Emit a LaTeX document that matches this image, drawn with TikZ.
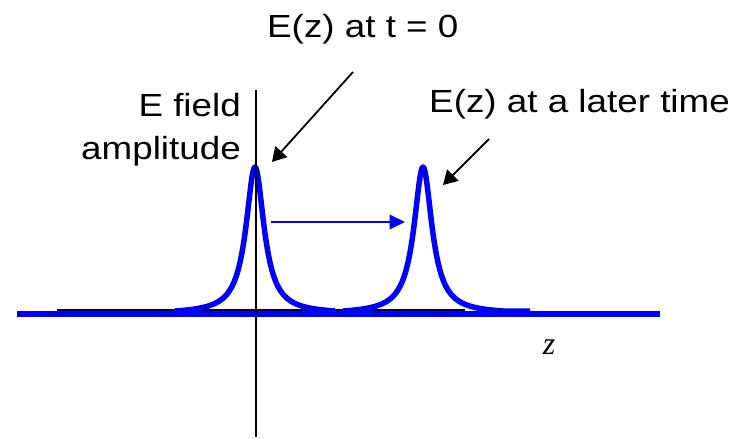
\documentclass[tikz,border=0pt]{standalone}
\usepackage{fontspec}
\newfontfamily\labelfont[FakeStretch=1.15]{Liberation Sans}
\newfontfamily\varfont{Liberation Serif}
\usetikzlibrary{arrows.meta}
\definecolor{pulseBlue}{RGB}{0,0,255}

\begin{document}
\begin{tikzpicture}[
    x=1pt, y=-1pt,
    pulse/.style={draw=pulseBlue, line width=5.5pt, line join=round},
    axis line/.style={draw=black, line width=1.5pt},
    pointer/.style={draw=black, line width=1.8pt, -{Triangle[length=14pt,width=16pt]}},
    shift arrow/.style={draw=pulseBlue, line width=2pt, -{Triangle[length=15.5pt,width=14.5pt]}},
    caption/.style={font=\labelfont\fontsize{32}{43}\selectfont, inner sep=0pt}
]
  \useasboundingbox (0,0) rectangle (747,439);

  % z axis and base line
  \coordinate (zStart) at (57,310.5);
  \coordinate (zEnd) at (465,310.5);
  \coordinate (baseStart) at (17,314);
  \coordinate (baseEnd) at (660,314);
  \draw[line width=2.5pt] (zStart) -- (zEnd);
  \draw[pulse] (baseStart) -- (baseEnd);

  % pulses
  \draw[pulse] plot[domain=-80:80, samples=161] ({255+\x},{311-146.72*(1/(1+(\x/11)^2)-0.01856)});
  \draw[pulse] plot[domain=-80:80, samples=161] ({423+\x},{311-146.72*(1/(1+(\x/11)^2)-0.01856)}) -- ++(27,0);

  % amplitude axis
  \coordinate (axisTop) at (256,90);
  \coordinate (axisBottom) at (256,437);
  \draw[axis line] (axisTop) -- (axisBottom);

  % labels
  \node[caption, anchor=base west] (capNow) at (267,37) {E(z) at t = 0};
  \node[caption, anchor=base west] (capLater) at (429,112) {E(z) at a later time};
  \node[caption, anchor=north east, align=right] (axisLabel) at (241,93.5) {E field\\amplitude};
  \node[font=\varfont\itshape\fontsize{32}{38}\selectfont, inner sep=0pt] (zLabel) at (549,347) {z};

  % pointers
  \coordinate (tailNow) at (353,72);
  \coordinate (tipNow) at (272,162);
  \coordinate (tailLater) at (489,139);
  \coordinate (tipLater) at (443,185);
  \draw[pointer] (tailNow) -- (tipNow);
  \draw[pointer] (tailLater) -- (tipLater);

  \coordinate (shiftFrom) at (271,222);
  \coordinate (shiftTo) at (405,222);
  \draw[shift arrow] (shiftFrom) -- (shiftTo);
\end{tikzpicture}
\end{document}
